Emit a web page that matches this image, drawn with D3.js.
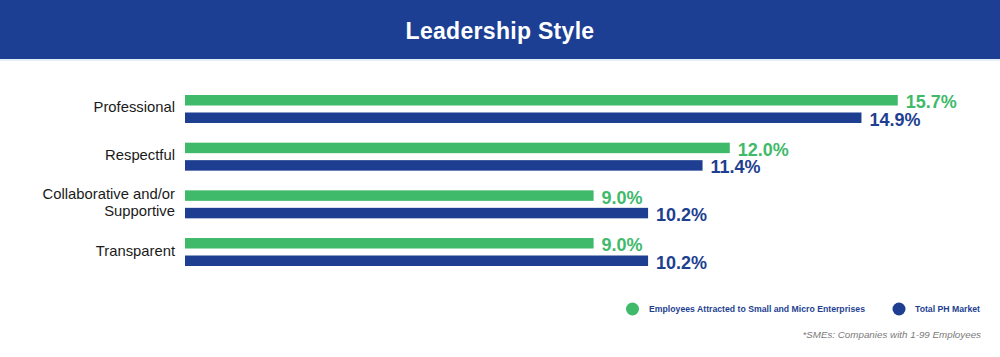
<!DOCTYPE html>
<html><head><meta charset="utf-8">
<script src="https://cdn.jsdelivr.net/npm/d3@7"></script>
<style>body{margin:0;background:#fff}svg{display:block}</style>
</head><body><svg id="c" width="1000" height="357"></svg>
<script>
const categories = [["Professional"],["Respectful"],["Collaborative and/or","Supportive"],["Transparent"]];
const seriesNames = ["Employees Attracted to Small and Micro Enterprises","Total PH Market"];
const smeValues = [15.7, 12.0, 9.0, 9.0];
const totalValues = [14.9, 11.4, 10.2, 10.2];
const colors = ["#3fba6b","#1e3f91"];

const svg = d3.select("#c");
const W = 1000, H = 357;
const FF = "Liberation Sans, Arial, sans-serif";
svg.append("rect").attr("x",0).attr("y",0).attr("width",W).attr("height",59).attr("fill","#1c3f94");
svg.append("rect").attr("x",0).attr("y",59).attr("width",W).attr("height",2).attr("fill","#e4eef7");
svg.append("text").attr("x",500).attr("y",38.5).attr("text-anchor","middle")
  .attr("font-family",FF).attr("font-weight","bold").attr("font-size",23).attr("letter-spacing",0.3)
  .attr("fill","#fff").text("Leadership Style");

const x = d3.scaleLinear().domain([0,16]).range([185,185+16*45.4]);
const y = d3.scaleBand().domain(d3.range(categories.length)).range([95,266]).paddingInner(0.413).paddingOuter(0);
const sub = d3.scaleBand().domain([0,1]).range([0,y.bandwidth()]).paddingInner(0.4);

const data = categories.map((c,i)=>({i, vals:[smeValues[i], totalValues[i]]}));
const g = svg.append("g");
data.forEach(d=>{
  d.vals.forEach((v,s)=>{
    const yy = y(d.i)+sub(s);
    g.append("rect").attr("x",x(0)).attr("y",yy).attr("width",x(v)-x(0)).attr("height",sub.bandwidth()).attr("fill",colors[s]);
    g.append("text").attr("x",x(v)+8).attr("y",yy+sub.bandwidth()/2+8)
      .attr("font-family",FF).attr("font-weight","bold").attr("font-size",18)
      .attr("fill",colors[s]).text(v.toFixed(1)+"%");
  });
  const lines = categories[d.i];
  const cy = y(d.i)+y.bandwidth()/2;
  const lh = 17;
  lines.forEach((l,k)=>{
    g.append("text").attr("x",175).attr("y",cy + (k-(lines.length-1)/2)*lh + 3.5)
      .attr("text-anchor","end").attr("font-family",FF).attr("font-size",14.8)
      .attr("fill","#1a1a1a").text(l);
  });
});

// legend
const leg = [{cx:632.5, tx:649},{cx:899, tx:915}];
leg.forEach((p,s)=>{
  svg.append("circle").attr("cx",p.cx).attr("cy",309).attr("r",6.5).attr("fill",colors[s]);
  svg.append("text").attr("x",p.tx).attr("y",312).attr("font-family",FF)
    .attr("font-size",8.7).attr("font-weight","bold").attr("fill","#1e3f91").text(seriesNames[s]);
});
svg.append("text").attr("x",981).attr("y",338).attr("text-anchor","end").attr("font-family",FF)
  .attr("font-size",9.8).attr("font-style","italic").attr("fill","#7a7a7a").text("*SMEs: Companies with 1-99 Employees");
</script></body></html>
